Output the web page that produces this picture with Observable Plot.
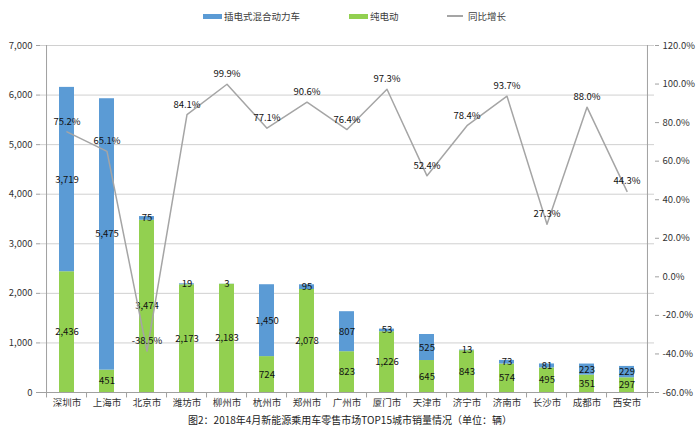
<!DOCTYPE html>
<html><head><meta charset="utf-8">
<script src="https://cdn.jsdelivr.net/npm/d3@7"></script>
<script src="https://cdn.jsdelivr.net/npm/@observablehq/plot@0.6"></script>
<style>
body{margin:0;background:#fff;font-family:"Noto Sans CJK SC",sans-serif;}
#legend{position:relative;height:30px;width:700px;font-size:9.5px;color:#404040;}
#legend .it{position:absolute;top:9px;height:14px;display:flex;align-items:center;white-space:nowrap;}
#legend .sw{display:inline-block;width:19px;height:5px;margin-right:2px;}
#legend .ln{display:inline-block;width:16px;height:1.5px;background:#a5a5a5;margin-right:5px;}
#caption{width:700px;text-align:center;font-size:10px;color:#222;margin-top:-3px;}
</style></head><body>
<div id="legend"></div>
<div id="chart"></div>
<div id="caption"></div>
<script>
const cities = ["深圳市","上海市","北京市","潍坊市","柳州市","杭州市","郑州市","广州市","厦门市","天津市","济宁市","济南市","长沙市","成都市","西安市"];
const ev   = [2436, 451, 3474, 2173, 2183, 724, 2078, 823, 1226, 645, 843, 574, 495, 351, 297];
const phev = [3719, 5475, 75, 19, 3, 1450, 95, 807, 53, 525, 13, 73, 81, 223, 229];
const yoy  = [75.2, 65.1, -38.5, 84.1, 99.9, 77.1, 90.6, 76.4, 97.3, 52.4, 78.4, 93.7, 27.3, 88.0, 44.3];
const leftTicks = [0,1000,2000,3000,4000,5000,6000,7000];
const rightTicks = [-60,-40,-20,0,20,40,60,80,100,120];
const seriesNames = ["纯电动","插电式混合动力车","同比增长"];
const seriesColors = ["#92d050","#5b9bd5","#a5a5a5"];
const captionText = "图2：2018年4月新能源乘用车零售市场TOP15城市销量情况（单位：辆）";

// legend
const leg = document.getElementById("legend");
const legItems = [
  {name: seriesNames[1], color: seriesColors[1], x: 203, kind: "sw"},
  {name: seriesNames[0], color: seriesColors[0], x: 349, kind: "sw"},
  {name: seriesNames[2], color: seriesColors[2], x: 447, kind: "ln"}
];
for (const it of legItems) {
  const d = document.createElement("div");
  d.className = "it"; d.style.left = it.x + "px";
  const s = document.createElement("span");
  s.className = it.kind; s.style.background = it.color;
  d.appendChild(s);
  d.appendChild(document.createTextNode(it.name));
  leg.appendChild(d);
}
document.getElementById("caption").textContent = captionText;

const rows = cities.flatMap((c,i)=>[
  {city:c, type:seriesNames[0], value:ev[i]},
  {city:c, type:seriesNames[1], value:phev[i]}
]);
const lineRows = cities.map((c,i)=>({city:c, p:yoy[i]}));
const toLeft = p => (p + 60) / 180 * 7000;
const fromLeft = v => Math.round(v / 7000 * 180 - 60);

const W = 700, ML = 40, MR = 46;
const step = (W - ML - MR) / cities.length;
const fmt = d3.format(",");
const stackOpts = {order: [seriesNames[0], seriesNames[1]]};

const chart = Plot.plot({
  width: W, height: 385,
  marginTop: 15, marginBottom: 23, marginLeft: ML, marginRight: MR,
  style: {fontFamily: '"Noto Sans CJK SC", sans-serif', background: "#fff", overflow: "visible"},
  x: {domain: cities, paddingInner: 0.62, paddingOuter: 0.31, label: null},
  y: {domain: [0, 7000], label: null},
  color: {domain: [seriesNames[0], seriesNames[1]], range: [seriesColors[0], seriesColors[1]]},
  marks: [
    Plot.gridY(leftTicks.slice(1), {stroke: "#d0d0d0", strokeOpacity: 1, strokeWidth: 1}),
    Plot.barY(rows, Plot.stackY({...stackOpts, x: "city", y: "value", fill: "type"})),
    Plot.text(rows, Plot.stackY({...stackOpts, x: "city", y: "value", z: "type", text: d => fmt(d.value), fontSize: 9.5, fill: "#111"})),
    Plot.line(lineRows, {x: "city", y: d => toLeft(d.p), stroke: seriesColors[2], strokeWidth: 1.5}),
    Plot.text(lineRows, {x: "city", y: d => toLeft(d.p), text: d => d.p.toFixed(1) + "%", dy: -10, fontSize: 9.5, fill: "#111"}),
    Plot.ruleY([0], {stroke: "#a0a0a0"}),
    Plot.ruleX(cities, {x: d => d, dx: -step/2, y1: 0, y2: -110, stroke: "#a0a0a0"}),
    Plot.ruleX([cities[cities.length-1]], {x: d => d, dx: step/2, y1: 0, y2: -110, stroke: "#a0a0a0"}),
    Plot.axisX({tickSize: 0, tickPadding: 7, fontSize: 9.5, color: "#333", label: null}),
    Plot.axisY(leftTicks, {anchor: "left", tickSize: 4, tickPadding: 4, fontSize: 9.5, color: "#333", stroke: "#a0a0a0", tickFormat: d => fmt(d), label: null}),
    Plot.ruleX([cities[0]], {x: d => d, dx: -step/2, y1: 0, y2: 7000, stroke: "#a0a0a0"}),
    Plot.axisY(rightTicks.map(toLeft), {anchor: "right", tickSize: 4, tickPadding: 4, fontSize: 9.5, color: "#333", stroke: "#a0a0a0", tickFormat: v => fromLeft(v).toFixed(1) + "%", label: null}),
    Plot.ruleX([cities[cities.length-1]], {x: d => d, dx: step/2, y1: 0, y2: 7000, stroke: "#a0a0a0"})
  ]
});
document.getElementById("chart").appendChild(chart);
</script>
</body></html>
